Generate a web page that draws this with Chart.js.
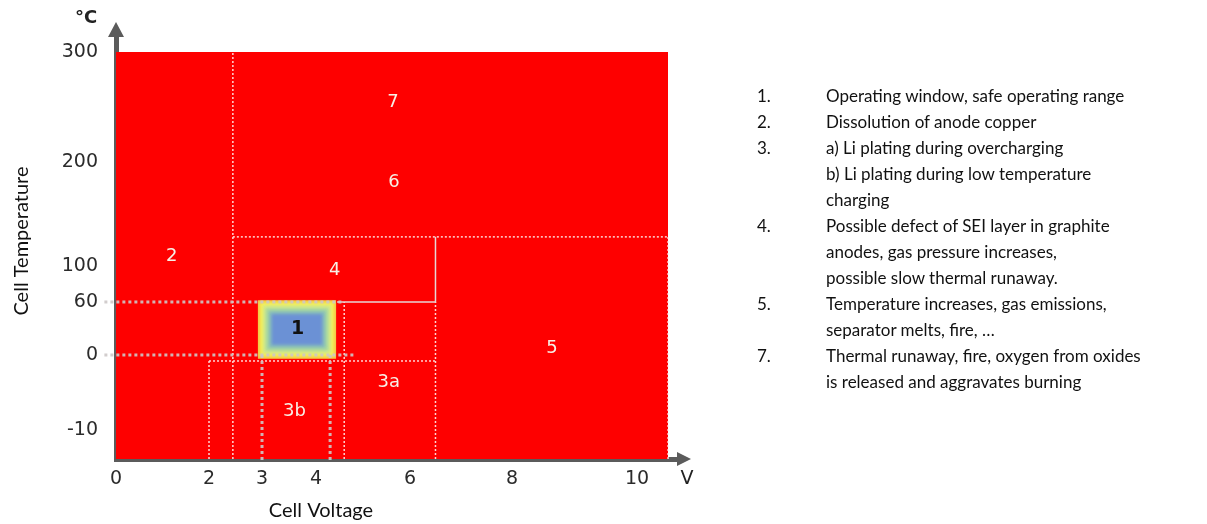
<!DOCTYPE html>
<html>
<head>
<meta charset="utf-8">
<script src="https://cdn.jsdelivr.net/npm/chart.js@4.4.1/dist/chart.umd.min.js"></script>
<style>
  html, body { margin: 0; padding: 0; background: #fff; }
  #wrap { position: relative; width: 1207px; height: 524px; }
  #chart { position: absolute; left: 0; top: 0; }
  #notes { position: absolute; left: 757px; top: 83px; font-family: Lato, "Open Sans", sans-serif;
           font-size: 17px; line-height: 26px; color: #111; }
  #notes .row { display: flex; white-space: nowrap; }
  #notes .num { width: 69px; }
</style>
</head>
<body>
<div id="wrap">
  <canvas id="chart" width="1207" height="524"></canvas>
  <div id="notes"></div>
</div>
<script>
// axis ticks
var voltTicks = [0, 2, 3, 4, 6, 8, 10];
var tempTicks = [-10, 0, 60, 100, 200, 300];

// [V from, V to, °C from, °C to]
var hazardField = [0, 10.5, -13.9, 300];
var safeWindow = [2.92, 4.43, -0.5, 62];

// zone numbers and where they sit (V, °C)
var zoneNames = ['7', '6', '2', '4', '1', '5', '3a', '3b'];
var zoneVolts = [5.64, 5.66, 1.2, 4.4, 3.66, 8.64, 5.55, 3.6];
var zoneTemps = [254, 180, 109, 95.5, 29, 7, -3.6, -7.5];

// white dotted zone borders [V1, °C1, V2, °C2]
var zoneBorders = [
  [2.45, -13.9, 2.45, 300],
  [2.45, 128, 10.5, 128],
  [6.5, -13.9, 6.5, 60],
  [4.6, -13.9, 4.6, 60],
  [2.0, -0.8, 6.5, -0.8],
  [2.0, -13.9, 2.0, -0.8],
  [10.5, -13.9, 10.5, 128]
];
// solid edge of zone 4
var zone4Edge = [[4.45, 60], [6.5, 60], [6.5, 128]];
// grey guides of the 0..60 °C / 3..4.3 V window
var guides = [
  [-0.25, 60, 4.6, 60],
  [-0.25, 0, 4.85, 0],
  [3.0, 0, 3.0, -14.4],
  [4.3, 0, 4.3, -14.4]
];

var notes = [
  ['1.', ['Operating window, safe operating range']],
  ['2.', ['Dissolution of anode copper']],
  ['3.', ['a) Li plating during overcharging', 'b) Li plating during low temperature', 'charging']],
  ['4.', ['Possible defect of SEI layer in graphite', 'anodes, gas pressure increases,', 'possible slow thermal runaway.']],
  ['5.', ['Temperature increases, gas emissions,', 'separator melts, fire, \u2026']],
  ['7.', ['Thermal runaway, fire, oxygen from oxides', 'is released and aggravates burning']]
];

// the drawing is not to scale: value -> share of the axis length
var axisStops = {
  x: [[0, 0], [2, 0.1655], [3, 0.2598], [4, 0.3559], [6, 0.5231], [8, 0.7046], [10, 0.927], [10.66, 1]],
  y: [[-13.9, 0], [-10, 0.0686], [0, 0.2459], [60, 0.3712], [100, 0.4563], [200, 0.7021], [300, 0.9622], [314.5, 1]]
};
var axisTicks = { x: voltTicks, y: tempTicks };

class StretchScale extends Chart.LinearScale {
  toDecimal(v) {
    var s = axisStops[this.id], i = 1;
    while (i < s.length - 1 && v > s[i][0]) i++;
    return s[i - 1][1] + (v - s[i - 1][0]) * (s[i][1] - s[i - 1][1]) / (s[i][0] - s[i - 1][0]);
  }
  getPixelForValue(v) {
    return this.getPixelForDecimal(this.toDecimal(v));
  }
  getValueForPixel(p) {
    var d = this.getDecimalForPixel(p), s = axisStops[this.id], i = 1;
    while (i < s.length - 1 && d > s[i][1]) i++;
    return s[i - 1][0] + (d - s[i - 1][1]) * (s[i][0] - s[i - 1][0]) / (s[i][1] - s[i - 1][1]);
  }
  buildTicks() {
    return axisTicks[this.id].map(function (v) { return { value: v }; });
  }
}
StretchScale.id = 'stretch';
StretchScale.defaults = Chart.LinearScale.defaults;
Chart.register(StretchScale);

// notes on the right
var box = document.getElementById('notes');
notes.forEach(function (n) {
  n[1].forEach(function (line, i) {
    var row = document.createElement('div');
    row.className = 'row';
    row.innerHTML = '<span class="num">' + (i === 0 ? n[0] : '') + '</span><span></span>';
    row.lastChild.textContent = line;
    box.appendChild(row);
  });
});

function rect(r, color, order) {
  return {
    data: [{ x: r[0], y: r[3] }, { x: r[1], y: r[3] }],
    fill: { value: r[2] },
    backgroundColor: color,
    borderColor: 'transparent',
    borderWidth: 0,
    order: order
  };
}
function segment(s, color, width, dash, order) {
  return {
    data: [{ x: s[0], y: s[1] }, { x: s[2], y: s[3] }],
    borderColor: color,
    borderWidth: width,
    borderDash: dash,
    fill: false,
    clip: false,
    order: order
  };
}

var datasets = [rect(hazardField, '#fe0000', 6), rect(safeWindow, '#f3c444', 5)];
var boxIndex = 1;
zoneBorders.forEach(function (s) {
  datasets.push(segment(s, 'rgba(255,235,235,0.9)', 1.5, [2, 2], 3));
});
datasets.push({
  data: zone4Edge.map(function (p) { return { x: p[0], y: p[1] }; }),
  borderColor: '#e6d6d6', borderWidth: 1.5, fill: false, order: 2
});
guides.forEach(function (s) {
  datasets.push(segment(s, 'rgba(205,200,200,0.9)', 3, [3, 3], 1));
});

var decor = {
  id: 'decor',
  afterDatasetDraw: function (chart, args) {
    if (args.index !== boxIndex) return;
    var c = chart.ctx, x = chart.scales.x, y = chart.scales.y;
    var l = x.getPixelForValue(safeWindow[0]), r = x.getPixelForValue(safeWindow[1]);
    var t = y.getPixelForValue(safeWindow[3]), b = y.getPixelForValue(safeWindow[2]);
    var layers = [[2, '#f6f055'], [5, '#d2e98a'], [8, '#a8d8a0'], [11, '#86bcbc'], [14, '#6b91d5']];
    c.save();
    c.filter = 'blur(1.5px)';
    layers.forEach(function (L) {
      c.fillStyle = L[1];
      c.fillRect(l + L[0], t + L[0], r - l - 2 * L[0], b - t - 2 * L[0]);
    });
    c.restore();
  },
  afterDatasetsDraw: function (chart) {
    var c = chart.ctx, x = chart.scales.x, y = chart.scales.y;
    c.save();
    c.textAlign = 'center';
    c.textBaseline = 'middle';
    zoneNames.forEach(function (name, i) {
      if (name === '1') {
        c.font = 'bold 19px "DejaVu Sans"';
        c.fillStyle = '#111';
      } else {
        c.font = '18px "DejaVu Sans"';
        c.fillStyle = '#f7f0e6';
      }
      c.fillText(name, x.getPixelForValue(zoneVolts[i]), y.getPixelForValue(zoneTemps[i]));
    });
    c.restore();
  },
  afterDraw: function (chart) {
    var c = chart.ctx, a = chart.chartArea;
    c.save();
    c.fillStyle = '#5b5b5b';
    // arrow heads
    c.beginPath();
    c.moveTo(a.left - 8, a.top + 1);
    c.lineTo(a.left + 8, a.top + 1);
    c.lineTo(a.left, a.top - 14);
    c.closePath();
    c.fill();
    c.beginPath();
    c.moveTo(a.right - 1, a.bottom - 7);
    c.lineTo(a.right - 1, a.bottom + 7);
    c.lineTo(a.right + 13, a.bottom);
    c.closePath();
    c.fill();
    // units
    c.fillStyle = '#222';
    c.textAlign = 'center';
    c.textBaseline = 'middle';
    c.font = 'bold 18px "DejaVu Sans"';
    c.fillText('\u00b0C', a.left - 30, 18);
    c.font = '19px "DejaVu Sans"';
    c.fillText('V', a.right + 9, 479);
    // axis titles
    c.fillStyle = '#111';
    c.font = '20px Lato';
    c.fillText('Cell Voltage', 321, 511);
    c.translate(22, 241);
    c.rotate(-Math.PI / 2);
    c.fillText('Cell Temperature', 0, 0);
    c.restore();
  }
};

var tickFont = { family: 'DejaVu Sans', size: 19 };

new Chart(document.getElementById('chart').getContext('2d'), {
  type: 'line',
  data: { datasets: datasets },
  options: {
    responsive: false,
    animation: false,
    events: [],
    layout: { padding: { left: 0, top: 36, right: 529, bottom: 0 } },
    elements: { point: { radius: 0 }, line: { tension: 0 } },
    plugins: { legend: { display: false }, tooltip: { enabled: false } },
    scales: {
      x: {
        type: 'stretch',
        min: 0,
        max: 10.66,
        z: 1,
        grid: { display: false, drawTicks: false },
        border: { display: true, color: '#5b5b5b', width: 5 },
        ticks: { autoSkip: false, maxRotation: 0, padding: 9, color: '#2b2b2b', font: tickFont,
                 callback: function (v) { return String(v); } },
        afterFit: function (s) { s.height = 65; }
      },
      y: {
        type: 'stretch',
        min: -13.9,
        max: 314.5,
        z: 1,
        grid: { display: false, drawTicks: false },
        border: { display: true, color: '#5b5b5b', width: 5 },
        ticks: { autoSkip: false, padding: 18, color: '#2b2b2b', font: tickFont,
                 callback: function (v) { return String(v); } },
        afterFit: function (s) { s.width = 116; }
      }
    }
  },
  plugins: [decor]
});
</script>
</body>
</html>
